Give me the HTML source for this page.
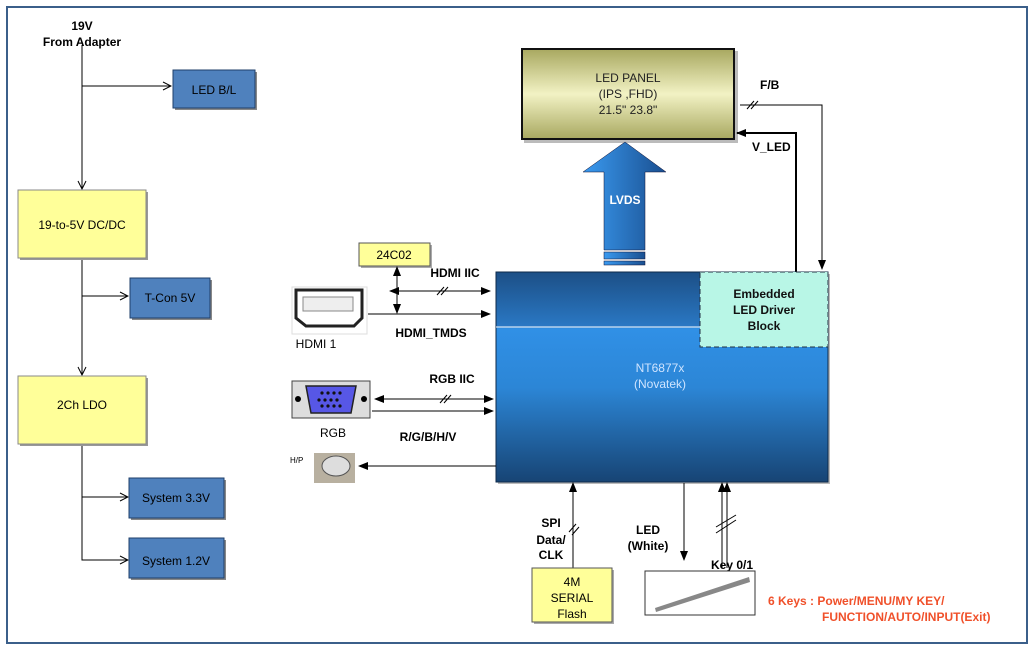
<!DOCTYPE html>
<html><head><meta charset="utf-8"><style>
body{margin:0;background:#fff;}
svg{display:block;font-family:"Liberation Sans",Arial,sans-serif;}
</style></head><body>
<svg width="1033" height="650" viewBox="0 0 1033 650" xmlns="http://www.w3.org/2000/svg">
<defs>
<marker id="o" markerWidth="10" markerHeight="10" refX="9" refY="5" orient="auto-start-reverse" markerUnits="userSpaceOnUse"><path d="M1,1 L9,5 L1,9" fill="none" stroke="#000" stroke-width="1"/></marker>
<marker id="f" markerWidth="10" markerHeight="10" refX="9" refY="5" orient="auto-start-reverse" markerUnits="userSpaceOnUse"><path d="M0,1 L10,5 L0,9 z" fill="#000"/></marker>
<linearGradient id="chip" x1="0" y1="0" x2="0" y2="1">
<stop offset="0" stop-color="#1c4f86"/><stop offset="0.26" stop-color="#2a78c4"/><stop offset="0.27" stop-color="#3090e6"/><stop offset="0.55" stop-color="#2c86d6"/><stop offset="1" stop-color="#174474"/></linearGradient>
<linearGradient id="panel" x1="0" y1="0" x2="0" y2="1">
<stop offset="0" stop-color="#a8a860"/><stop offset="0.5" stop-color="#f2f2c4"/><stop offset="1" stop-color="#a8a860"/></linearGradient>
<linearGradient id="arr" x1="0" y1="0" x2="1" y2="0">
<stop offset="0" stop-color="#3a9af0"/><stop offset="1" stop-color="#1a4f90"/></linearGradient>
</defs>
<rect x="7" y="7" width="1020" height="636" fill="#fff" stroke="#3b5f8a" stroke-width="2"/>

<!-- left power tree -->
<text x="82" y="30" font-size="12" font-weight="bold" text-anchor="middle">19V</text>
<text x="82" y="46" font-size="12" font-weight="bold" text-anchor="middle">From Adapter</text>
<g stroke="#000" stroke-width="1" fill="none">
<line x1="82" y1="45" x2="82" y2="189" marker-end="url(#o)"/>
<line x1="82" y1="86" x2="171" y2="86" marker-end="url(#o)"/>
<line x1="82" y1="258" x2="82" y2="375" marker-end="url(#o)"/>
<line x1="82" y1="296" x2="128" y2="296" marker-end="url(#o)"/>
<polyline points="82,444 82,560 128,560" marker-end="url(#o)"/>
<line x1="82" y1="497" x2="128" y2="497" marker-end="url(#o)"/>
</g>
<g font-size="12" text-anchor="middle">
<rect x="175" y="72" width="82" height="38" fill="#888"/>
<rect x="173" y="70" width="82" height="38" fill="#4f81bd" stroke="#1f3f6a"/>
<text x="214" y="94">LED B/L</text>
<rect x="20" y="192" width="128" height="68" fill="#999"/>
<rect x="18" y="190" width="128" height="68" fill="#ffff99" stroke="#888"/>
<text x="82" y="229">19-to-5V DC/DC</text>
<rect x="132" y="280" width="80" height="40" fill="#888"/>
<rect x="130" y="278" width="80" height="40" fill="#4f81bd" stroke="#1f3f6a"/>
<text x="170" y="302">T-Con 5V</text>
<rect x="20" y="378" width="128" height="68" fill="#999"/>
<rect x="18" y="376" width="128" height="68" fill="#ffff99" stroke="#888"/>
<text x="82" y="409">2Ch LDO</text>
<rect x="131" y="480" width="95" height="40" fill="#888"/>
<rect x="129" y="478" width="95" height="40" fill="#4f81bd" stroke="#1f3f6a"/>
<text x="176" y="502">System 3.3V</text>
<rect x="131" y="540" width="95" height="40" fill="#888"/>
<rect x="129" y="538" width="95" height="40" fill="#4f81bd" stroke="#1f3f6a"/>
<text x="176" y="565">System 1.2V</text>
</g>

<!-- LED panel -->
<rect x="524" y="51" width="214" height="92" fill="#bbb"/>
<rect x="522" y="49" width="212" height="90" fill="url(#panel)" stroke="#111" stroke-width="2"/>
<g font-size="12" text-anchor="middle" fill="#222">
<text x="628" y="82">LED PANEL</text><text x="628" y="98">(IPS ,FHD)</text><text x="628" y="114">21.5" 23.8"</text></g>

<!-- LVDS arrow -->
<path d="M604,250 L604,172 L583,172 L625,142 L666,172 L645,172 L645,250 z" fill="url(#arr)" stroke="#113" stroke-width="0.5"/>
<rect x="604" y="252" width="41" height="7" fill="url(#arr)" stroke="#113" stroke-width="0.5"/>
<rect x="604" y="261" width="41" height="4" fill="url(#arr)" stroke="#113" stroke-width="0.5"/>
<text x="625" y="204" font-size="12" font-weight="bold" fill="#fff" text-anchor="middle">LVDS</text>

<!-- F/B and V_LED -->
<text x="760" y="89" font-size="12" font-weight="bold">F/B</text>
<text x="752" y="151" font-size="12" font-weight="bold">V_LED</text>
<polyline points="740,105 822,105 822,269" fill="none" stroke="#000" stroke-width="1" marker-end="url(#f)"/>
<line x1="747" y1="109" x2="754" y2="101" stroke="#000"/><line x1="751" y1="109" x2="758" y2="101" stroke="#000"/>
<polyline points="796,272 796,133 737,133" fill="none" stroke="#000" stroke-width="2" marker-end="url(#f)"/>

<!-- chip -->
<rect x="498" y="274" width="332" height="210" fill="#bbb"/>
<rect x="496" y="272" width="332" height="210" fill="url(#chip)" stroke="#0e2a4a"/>
<line x1="496" y1="327" x2="700" y2="327" stroke="#fff" stroke-width="1"/>
<rect x="700" y="272" width="128" height="75" fill="#b8f6e6" stroke="#234" stroke-dasharray="5,3"/>
<g font-size="12" font-weight="bold" text-anchor="middle" fill="#111">
<text x="764" y="298">Embedded</text><text x="764" y="314">LED Driver</text><text x="764" y="330">Block</text></g>
<text x="660" y="372" font-size="12" fill="#cfe4ff" text-anchor="middle">NT6877x</text>
<text x="660" y="388" font-size="12" fill="#cfe4ff" text-anchor="middle">(Novatek)</text>

<!-- 24C02 -->
<rect x="361" y="245" width="71" height="23" fill="#aaa"/>
<rect x="359" y="243" width="71" height="23" fill="#ffff99" stroke="#555"/>
<text x="394" y="259" font-size="12" text-anchor="middle">24C02</text>

<!-- HDMI connector -->
<rect x="292" y="287" width="75" height="47" fill="#fff" stroke="#ddd"/>
<path d="M296,290 L362,290 L362,318 L354,326 L306,326 L296,318 z" fill="#fff" stroke="#222" stroke-width="3"/>
<rect x="303" y="297" width="50" height="14" fill="#eee" stroke="#888"/>
<text x="316" y="348" font-size="12" text-anchor="middle">HDMI 1</text>
<text x="455" y="277" font-size="12" font-weight="bold" text-anchor="middle">HDMI IIC</text>
<text x="431" y="337" font-size="12" font-weight="bold" text-anchor="middle">HDMI_TMDS</text>
<g stroke="#000" stroke-width="1" fill="none">
<line x1="390" y1="291" x2="490" y2="291" marker-start="url(#f)" marker-end="url(#f)"/>
<line x1="397" y1="267" x2="397" y2="313" marker-start="url(#f)" marker-end="url(#f)"/>
<line x1="368" y1="314" x2="490" y2="314" marker-end="url(#f)"/>
<line x1="437" y1="295" x2="444" y2="287"/><line x1="441" y1="295" x2="448" y2="287"/>
</g>

<!-- RGB connector -->
<rect x="292" y="381" width="78" height="37" fill="#ddd" stroke="#444"/>
<circle cx="298" cy="399" r="3"/><circle cx="364" cy="399" r="3"/>
<path d="M306,386 L356,386 L351,413 L311,413 z" fill="#5757e6" stroke="#222" stroke-width="1.5"/>
<g fill="#111"><circle cx="322" cy="393" r="1.6"/><circle cx="328" cy="393" r="1.6"/><circle cx="334" cy="393" r="1.6"/><circle cx="340" cy="393" r="1.6"/>
<circle cx="319" cy="400" r="1.6"/><circle cx="325" cy="400" r="1.6"/><circle cx="331" cy="400" r="1.6"/><circle cx="337" cy="400" r="1.6"/>
<circle cx="322" cy="406" r="1.6"/><circle cx="328" cy="406" r="1.6"/><circle cx="334" cy="406" r="1.6"/><circle cx="340" cy="406" r="1.6"/></g>
<text x="333" y="437" font-size="12" text-anchor="middle">RGB</text>
<text x="452" y="383" font-size="12" font-weight="bold" text-anchor="middle">RGB IIC</text>
<text x="428" y="441" font-size="12" font-weight="bold" text-anchor="middle">R/G/B/H/V</text>
<g stroke="#000" stroke-width="1" fill="none">
<line x1="375" y1="399" x2="493" y2="399" marker-start="url(#f)" marker-end="url(#f)"/>
<line x1="372" y1="411" x2="493" y2="411" marker-end="url(#f)"/>
<line x1="440" y1="403" x2="447" y2="395"/><line x1="444" y1="403" x2="451" y2="395"/>
<line x1="496" y1="466" x2="359" y2="466" marker-end="url(#f)"/>
</g>

<!-- H/P -->
<text x="290" y="463" font-size="8">H/P</text>
<rect x="314" y="453" width="41" height="30" fill="#b8b0a0"/>
<ellipse cx="336" cy="466" rx="14" ry="10" fill="#ddd" stroke="#555"/>

<!-- bottom -->
<g stroke="#000" stroke-width="1" fill="none">
<line x1="573" y1="568" x2="573" y2="483" marker-end="url(#f)"/>
<line x1="569" y1="532" x2="576" y2="524"/><line x1="572" y1="535" x2="579" y2="527"/>
<line x1="684" y1="483" x2="684" y2="560" marker-end="url(#f)"/>
<line x1="722" y1="568" x2="722" y2="483" marker-end="url(#f)"/>
<line x1="727" y1="568" x2="727" y2="483" marker-end="url(#f)"/>
<line x1="716" y1="527" x2="736" y2="515"/><line x1="716" y1="533" x2="736" y2="520"/>
</g>
<g font-size="12" font-weight="bold" text-anchor="middle">
<text x="551" y="527">SPI</text><text x="551" y="544">Data/</text><text x="551" y="559">CLK</text>
<text x="648" y="534">LED</text><text x="648" y="550">(White)</text>
<text x="732" y="569">Key 0/1</text></g>
<rect x="534" y="570" width="80" height="54" fill="#aaa"/>
<rect x="532" y="568" width="80" height="54" fill="#ffff99" stroke="#555"/>
<g font-size="12" text-anchor="middle"><text x="572" y="586">4M</text><text x="572" y="602">SERIAL</text><text x="572" y="618">Flash</text></g>
<rect x="645" y="571" width="110" height="44" fill="#fff" stroke="#333"/>
<path d="M655,608 L749,577 L750,582 L656,612 z" fill="#888"/>
<g font-size="12" font-weight="bold" fill="#f0502a">
<text x="768" y="605">6 Keys : Power/MENU/MY KEY/</text>
<text x="822" y="621">FUNCTION/AUTO/INPUT(Exit)</text></g>
</svg>
</body></html>
